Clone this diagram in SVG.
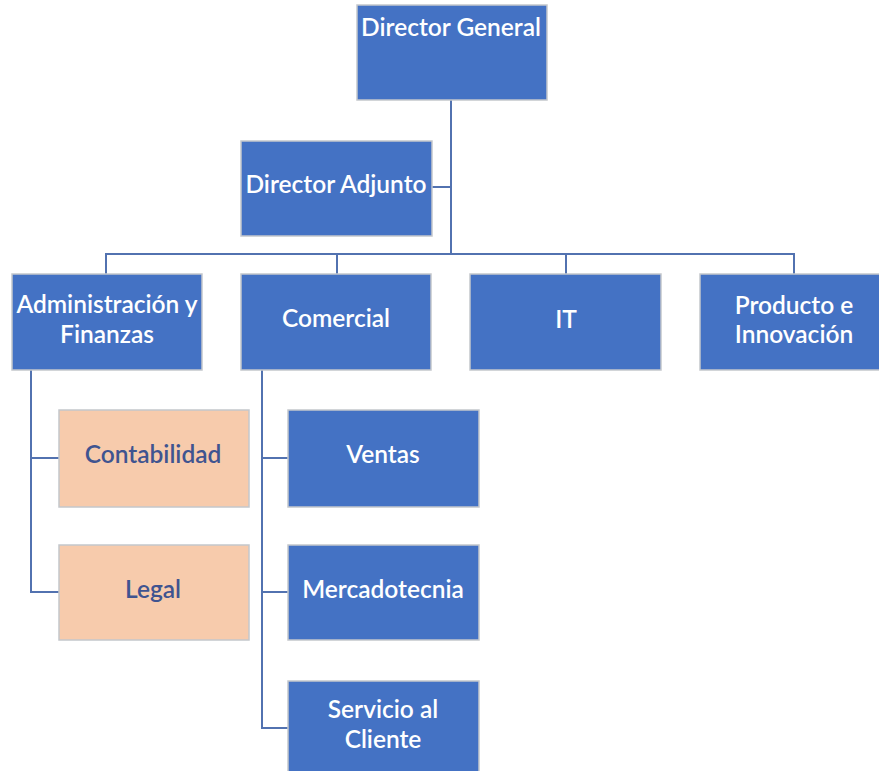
<svg xmlns="http://www.w3.org/2000/svg" width="879" height="771" viewBox="0 0 879 771">
<style>
.b{fill:#4472C4;stroke:#c4c7cc;stroke-width:1.5}
.p{fill:#F7CBAC;stroke:#c4c7cc;stroke-width:1.5}
.t{font-family:Lato,"Liberation Sans",sans-serif;font-size:24.5px;font-weight:600;fill:#ffffff;text-anchor:middle}
.tp{font-family:Lato,"Liberation Sans",sans-serif;font-size:24.5px;font-weight:600;fill:#3f5490;text-anchor:middle}
.c{fill:none;stroke:#5272b0;stroke-width:2}
</style>
<rect width="879" height="771" fill="#ffffff"/>
<g id="connectors">
<path class="c" d="M451 100V254"/>
<path class="c" d="M432 187H451"/>
<path class="c" d="M106 274V254H794V274"/>
<path class="c" d="M337 254V274"/>
<path class="c" d="M566 254V274"/>
<path class="c" d="M31 370V592H59"/>
<path class="c" d="M31 458H59"/>
<path class="c" d="M262 370V728H288"/>
<path class="c" d="M262 458H288"/>
<path class="c" d="M262 592H288"/>
</g>
<g id="director-general"><rect class="b" x="357" y="5" width="190" height="95"/><text class="t" x="451" y="36">Director General</text></g>
<g id="director-adjunto"><rect class="b" x="241" y="141" width="191" height="95"/><text class="t" x="336" y="193">Director Adjunto</text></g>
<g id="administracion"><rect class="b" x="12" y="274" width="190" height="96"/><text class="t" x="107" y="313">Administración y</text><text class="t" x="107" y="343">Finanzas</text></g>
<g id="comercial"><rect class="b" x="241" y="274" width="190" height="96"/><text class="t" x="336" y="327">Comercial</text></g>
<g id="it"><rect class="b" x="470" y="274" width="191" height="96"/><text class="t" x="566" y="328">IT</text></g>
<g id="producto"><rect class="b" x="700" y="274" width="191" height="96"/><text class="t" x="794" y="314">Producto e</text><text class="t" x="794" y="343">Innovación</text></g>
<g id="contabilidad"><rect class="p" x="59" y="410" width="190" height="97"/><text class="tp" x="153" y="463">Contabilidad</text></g>
<g id="legal"><rect class="p" x="59" y="545" width="190" height="95"/><text class="tp" x="153" y="598">Legal</text></g>
<g id="ventas"><rect class="b" x="288" y="410" width="191" height="97"/><text class="t" x="383" y="463">Ventas</text></g>
<g id="mercadotecnia"><rect class="b" x="288" y="545" width="191" height="95"/><text class="t" x="383" y="598">Mercadotecnia</text></g>
<g id="servicio"><rect class="b" x="288" y="681" width="191" height="95"/><text class="t" x="383" y="718">Servicio al</text><text class="t" x="383" y="748">Cliente</text></g>
</svg>
